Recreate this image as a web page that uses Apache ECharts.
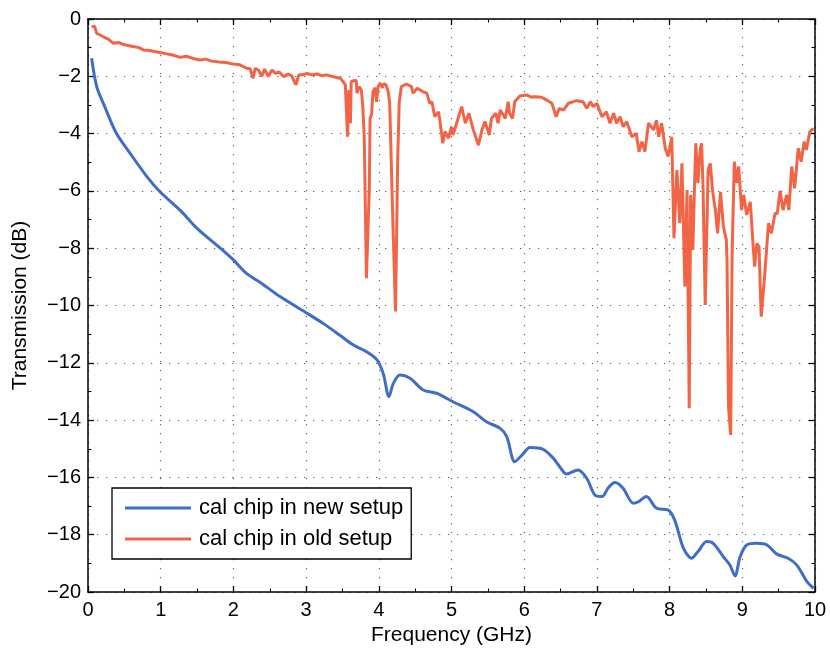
<!DOCTYPE html>
<html>
<head>
<meta charset="utf-8">
<script src="https://cdn.jsdelivr.net/npm/echarts@6/dist/echarts.min.js"></script>
<style>html,body{margin:0;padding:0;background:#fff}#c{width:830px;height:653px}</style>
</head>
<body>
<div id="c"></div>
<script>
var seriesNames = ['cal chip in new setup', 'cal chip in old setup'];
var xTicks = [0, 1, 2, 3, 4, 5, 6, 7, 8, 9, 10];
var yTicks = [-20, -18, -16, -14, -12, -10, -8, -6, -4, -2, 0];

var newSetup = [
[0.05,-1.37],[0.12,-2.36],[0.23,-3.06],[0.39,-3.99],[0.58,-4.69],[0.81,-5.5],[0.99,-6.03],
[1.27,-6.68],[1.5,-7.31],[1.82,-8.0],[2.0,-8.41],[2.18,-8.88],[2.4,-9.25],[2.64,-9.69],[3.0,-10.25],
[3.25,-10.65],[3.47,-11.05],[3.65,-11.38],[3.83,-11.61],[3.97,-11.88],[4.06,-12.37],[4.14,-13.18],
[4.2,-12.72],[4.29,-12.43],[4.43,-12.54],[4.61,-12.95],[4.8,-13.07],[5.02,-13.36],[5.3,-13.71],
[5.48,-14.06],[5.67,-14.29],[5.76,-14.58],[5.87,-15.45],[5.97,-15.22],[6.08,-14.96],[6.26,-15.02],
[6.4,-15.33],[6.52,-15.74],[6.58,-15.88],[6.74,-15.74],[6.86,-16.03],[6.97,-16.61],[7.07,-16.67],
[7.16,-16.35],[7.25,-16.18],[7.36,-16.38],[7.5,-16.9],[7.57,-16.85],[7.68,-16.67],[7.82,-17.08],
[7.98,-17.14],[8.07,-17.49],[8.19,-18.47],[8.3,-18.82],[8.39,-18.59],[8.51,-18.24],[8.6,-18.3],
[8.74,-18.77],[8.83,-19.06],[8.9,-19.44],[8.97,-18.77],[9.06,-18.36],[9.2,-18.3],[9.34,-18.36],
[9.47,-18.67],[9.63,-18.82],[9.75,-19.06],[9.89,-19.64],[9.98,-19.87]
];

var oldSetup = [
[0.05,-0.27],[0.09,-0.25],[0.12,-0.5],[0.16,-0.55],[0.21,-0.62],[0.28,-0.7],[0.35,-0.85],[0.42,-0.82],
[0.5,-0.9],[0.6,-0.95],[0.7,-1.0],[0.76,-1.08],[0.85,-1.1],[0.95,-1.15],[1.05,-1.2],[1.15,-1.25],
[1.27,-1.34],[1.35,-1.3],[1.45,-1.38],[1.54,-1.43],[1.62,-1.4],[1.7,-1.47],[1.8,-1.5],[1.9,-1.52],
[1.95,-1.55],[2.0,-1.57],[2.09,-1.6],[2.18,-1.72],[2.23,-1.74],[2.27,-2.07],[2.3,-1.72],[2.35,-1.8],
[2.39,-2.0],[2.43,-1.75],[2.48,-2.01],[2.53,-1.78],[2.58,-1.9],[2.63,-1.85],[2.69,-2.01],[2.75,-1.92],
[2.8,-1.98],[2.86,-2.3],[2.9,-1.95],[2.95,-1.95],[3.01,-1.9],[3.08,-1.95],[3.15,-1.92],[3.22,-1.98],
[3.28,-1.95],[3.35,-2.0],[3.42,-2.04],[3.47,-2.07],[3.51,-2.19],[3.54,-2.3],[3.57,-4.11],[3.59,-2.48],
[3.61,-3.64],[3.62,-2.19],[3.66,-2.15],[3.69,-2.15],[3.7,-2.59],[3.73,-2.36],[3.76,-2.48],[3.78,-3.06],
[3.8,-4.11],[3.83,-9.05],[3.87,-5.85],[3.88,-3.47],[3.9,-3.35],[3.92,-2.54],[3.95,-2.4],[3.97,-2.89],
[3.99,-2.36],[4.02,-2.25],[4.05,-2.4],[4.07,-2.25],[4.1,-2.3],[4.13,-2.54],[4.15,-2.94],[4.19,-6.78],
[4.23,-10.21],[4.26,-4.92],[4.28,-2.94],[4.31,-2.36],[4.38,-2.27],[4.45,-2.36],[4.47,-2.59],[4.53,-2.42],
[4.57,-2.48],[4.61,-2.54],[4.66,-2.59],[4.7,-2.94],[4.73,-2.89],[4.77,-3.41],[4.82,-3.24],[4.84,-3.53],
[4.88,-4.34],[4.91,-3.93],[4.96,-4.16],[5.0,-3.76],[5.02,-4.05],[5.07,-3.64],[5.14,-3.06],[5.19,-3.64],
[5.24,-3.29],[5.3,-3.87],[5.37,-4.4],[5.42,-3.87],[5.46,-3.58],[5.52,-4.05],[5.55,-3.47],[5.61,-3.29],
[5.64,-3.64],[5.67,-3.18],[5.74,-3.47],[5.78,-2.89],[5.8,-3.29],[5.84,-3.47],[5.87,-2.89],[5.94,-2.69],
[6.03,-2.65],[6.09,-2.72],[6.15,-2.71],[6.24,-2.73],[6.31,-2.83],[6.38,-2.94],[6.44,-3.41],[6.48,-3.12],
[6.54,-3.18],[6.61,-2.94],[6.72,-2.85],[6.81,-2.89],[6.86,-3.12],[6.91,-2.89],[6.95,-3.06],[7.0,-2.94],
[7.07,-3.41],[7.13,-3.24],[7.18,-3.64],[7.23,-3.29],[7.27,-3.64],[7.32,-3.41],[7.36,-3.76],[7.41,-3.58],
[7.48,-4.11],[7.54,-3.99],[7.58,-4.63],[7.62,-4.28],[7.66,-4.63],[7.71,-3.64],[7.73,-3.58],[7.78,-3.87],
[7.82,-3.53],[7.85,-4.11],[7.89,-3.64],[7.94,-4.51],[7.98,-4.8],[8.03,-4.11],[8.06,-7.65],[8.1,-5.27],
[8.14,-7.13],[8.17,-5.04],[8.21,-9.34],[8.24,-5.97],[8.27,-13.59],[8.29,-6.14],[8.32,-8.06],[8.34,-6.08],
[8.36,-4.34],[8.39,-5.73],[8.42,-4.57],[8.44,-4.34],[8.46,-5.85],[8.49,-9.98],[8.53,-5.27],[8.56,-5.04],
[8.59,-5.97],[8.63,-6.67],[8.66,-7.48],[8.7,-6.03],[8.74,-7.25],[8.78,-7.71],[8.79,-8.41],[8.81,-13.53],
[8.84,-14.52],[8.86,-8.18],[8.89,-4.98],[8.92,-5.73],[8.95,-5.15],[8.99,-6.67],[9.02,-6.14],[9.06,-6.84],
[9.11,-6.38],[9.15,-7.95],[9.17,-8.64],[9.2,-7.83],[9.23,-7.95],[9.26,-10.39],[9.31,-8.88],[9.36,-7.13],
[9.4,-7.48],[9.45,-6.78],[9.48,-6.8],[9.52,-5.99],[9.56,-6.67],[9.61,-6.14],[9.64,-6.67],[9.68,-5.15],
[9.72,-5.91],[9.77,-4.51],[9.81,-4.98],[9.85,-4.28],[9.88,-4.57],[9.93,-3.93],[9.98,-3.82]
];

var FONT = '"Liberation Sans", Arial, Helvetica, sans-serif';
var chart = echarts.init(document.getElementById('c'), null, {renderer: 'canvas'});

function axisBase(isX, pos, showLabels) {
  var ticks = isX ? xTicks : yTicks;
  return {
    type: 'value',
    position: pos,
    min: ticks[0],
    max: ticks[ticks.length - 1],
    interval: ticks[1] - ticks[0],
    axisLine: {show: true, onZero: false, lineStyle: {color: '#000', width: 1.5}},
    axisTick: {show: true, inside: true, length: 6, lineStyle: {color: '#000', width: 1.3}},
    minorTick: {show: true, splitNumber: 2, length: 3.5, lineStyle: {color: '#000', width: 1.1}},
    axisLabel: {
      show: showLabels,
      color: '#000',
      fontSize: 20,
      fontFamily: FONT,
      margin: isX ? 8 : 7,
      formatter: function (v) { return String(v).replace('-', '\u2212'); }
    },
    splitLine: {show: showLabels, lineStyle: {color: '#666', type: [1.3, 7.7], width: 1.2}}
  };
}

var xMain = axisBase(true, 'bottom', true);
xMain.name = 'Frequency (GHz)';
xMain.nameLocation = 'middle';
xMain.nameGap = 33;
xMain.nameTextStyle = {color: '#000', fontSize: 21, fontFamily: FONT};
var xTop = axisBase(true, 'top', false);

var yMain = axisBase(false, 'left', true);
yMain.name = 'Transmission (dB)';
yMain.nameLocation = 'middle';
yMain.nameGap = 57;
yMain.nameTextStyle = {color: '#000', fontSize: 21, fontFamily: FONT};
var yRight = axisBase(false, 'right', false);

chart.setOption({
  animation: false,
  backgroundColor: '#fff',
  grid: {left: 88, right: 15, top: 19, bottom: 61, containLabel: false},
  xAxis: [xMain, xTop],
  yAxis: [yMain, yRight],
  legend: {
    left: 112, top: 488,
    orient: 'vertical',
    data: seriesNames,
    icon: 'rect',
    itemWidth: 66,
    itemHeight: 3,
    itemGap: 7,
    padding: [8, 8, 8, 13],
    borderColor: '#000',
    borderWidth: 1.3,
    backgroundColor: '#fff',
    textStyle: {color: '#000', fontSize: 22, fontFamily: FONT, lineHeight: 24, padding: [0, 0, 0, 3]}
  },
  series: [
    {
      name: seriesNames[0], type: 'line', data: newSetup, xAxisIndex: 0, yAxisIndex: 0,
      showSymbol: false, symbol: 'none', smooth: 0.3,
      lineStyle: {color: '#3F6EC6', width: 3}, itemStyle: {color: '#3F6EC6'}
    },
    {
      name: seriesNames[1], type: 'line', data: oldSetup, xAxisIndex: 0, yAxisIndex: 0,
      showSymbol: false, symbol: 'none', smooth: false,
      lineStyle: {color: '#F26446', width: 3}, itemStyle: {color: '#F26446'}
    }
  ]
});
</script>
</body>
</html>
